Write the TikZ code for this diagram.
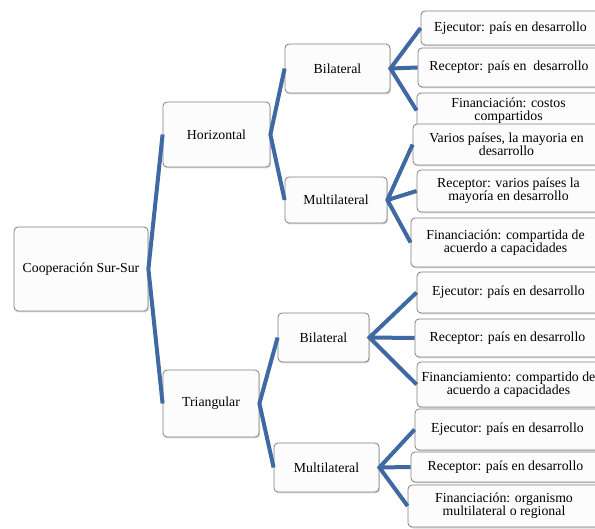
\documentclass[tikz,border=0pt]{standalone}
\usepackage{fontspec}
\setmainfont{Liberation Serif}
\usetikzlibrary{shadows,positioning}
\definecolor{azul}{RGB}{62,105,163}
\begin{document}
\begin{tikzpicture}[x=1pt,y=-1pt,
  caja/.style={draw=black!50,line width=0.8pt,fill=black!1,rounded corners=4pt,
    drop shadow={opacity=0.3,shadow xshift=1pt,shadow yshift=-1.5pt},
    align=center,inner sep=1pt,font=\fontsize{13.8}{12.8}\selectfont},
  rama/.style={draw=azul,line width=4pt}]
\clip (0,0) rectangle (595,529);
% niveles 1 y 2
\node[caja,minimum width=134pt,minimum height=84pt](raiz) at (81,269){Cooperación Sur-Sur};
\node[caja,minimum width=107pt,minimum height=65pt](hor) at (216.5,134.5){Horizontal};
\node[caja,minimum width=96pt,minimum height=67pt](tri) at (211,403.5){Triangular};
\node[caja,minimum width=105pt,minimum height=49pt](hbi) at (337.5,68.5){Bilateral};
\node[caja,minimum width=102pt,minimum height=46pt](hmu) at (336,200){Multilateral};
\node[caja,minimum width=91pt,minimum height=49pt](tbi) at (323.5,337.5){Bilateral};
\node[caja,minimum width=105pt,minimum height=49pt](tmu) at (326.5,467.5){Multilateral};
% hojas: izquierda/arriba/abajo/texto
\foreach \n/\l/\a/\b/\t in {
  h1/421/11/45/{Ejecutor: país en desarrollo},
  h2/418/48/87/{Receptor: país en \ desarrollo},
  h3/417/93/128/{Financiación: costos\\compartidos},
  h4/413/124/165/{Varios países, la mayoria en\\desarrollo},
  h5/417/170/212/{Receptor: varios países la\\mayoría en desarrollo},
  h6/411/218/267/{Financiación: compartida de\\acuerdo a capacidades},
  h7/417/272/313/{Ejecutor: país en desarrollo},
  h8/415/319/357/{Receptor: país en desarrollo},
  h9/417/362/407/{Financiamiento: compartido de\\acuerdo a capacidades},
  h10/415/409/450/{Ejecutor: país en desarrollo},
  h11/411/452/482/{Receptor: país en desarrollo},
  h12/408/485/527/{Financiación: organismo\\multilateral o regional}}
  \node[caja,minimum width=600-\l,minimum height=\b-\a](\n) at ({(\l+600)/2},{(\a+\b)/2}){\t};
% ramas
\draw[rama] (hor.west)--(raiz.east)--(tri.west);
\draw[rama] (hbi.west)--(hor.east)--(hmu.west);
\draw[rama] (tbi.west)--(tri.east)--(tmu.west);
\draw[rama] (h1.west)--(hbi.east)--(h3.west) (hbi.east)--(h2.west);
\draw[rama] (h4.west)--(hmu.east)--(h6.west) (hmu.east)--(h5.west);
\draw[rama] (h7.west)--(tbi.east)--(h9.west) (tbi.east)--(h8.west);
\draw[rama] (h10.west)--(tmu.east)--(h12.west) (tmu.east)--(h11.west);
\end{tikzpicture}
\end{document}
